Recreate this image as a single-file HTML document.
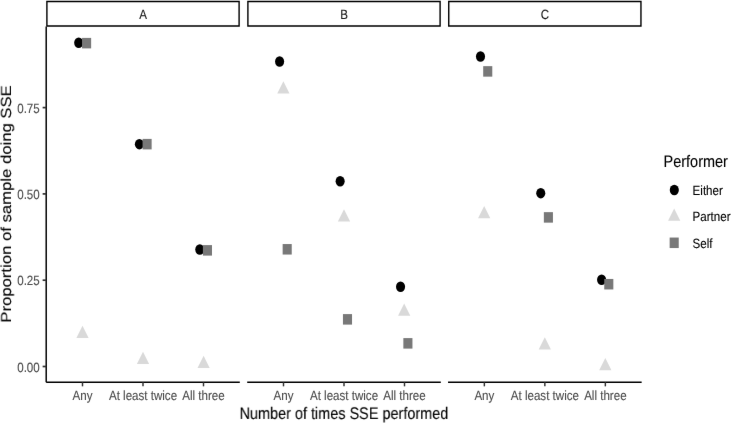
<!DOCTYPE html>
<html><head><meta charset="utf-8"><style>
html,body{margin:0;padding:0;background:#fff;width:731px;height:423px;overflow:hidden}
svg{display:block;font-family:"Liberation Sans",sans-serif;will-change:transform;text-rendering:geometricPrecision}
</style></head><body>
<svg width="731" height="423" viewBox="0 0 731 423">
<defs><filter id="bl" x="0" y="0" width="731" height="423" filterUnits="userSpaceOnUse" color-interpolation-filters="sRGB"><feConvolveMatrix order="3" kernelMatrix="0.00163 0.03713 0.00163 0.03713 0.84497 0.03713 0.00163 0.03713 0.00163" edgeMode="duplicate" preserveAlpha="true"/></filter></defs>
<g filter="url(#bl)"><rect width="731" height="423" fill="#fff"/>
<path d="M46.20,0.65H239.80V26.8H46.20Z M47.60,2.15V25.18H238.40V2.15Z" fill="#000" fill-rule="evenodd"/>
<text transform="translate(143.00,18.60) scale(0.866,1)" font-size="13.36" fill="#1A1A1A" stroke="#1A1A1A" stroke-width="0.12" text-anchor="middle">A</text>
<line x1="46.20" y1="382.25" x2="239.80" y2="382.25" stroke="#000" stroke-width="1.7"/>
<line x1="82.50" y1="382.25" x2="82.50" y2="386.35" stroke="#333333" stroke-width="1.47"/>
<text transform="translate(82.50,399.75) scale(0.866,1)" font-size="13.36" fill="#4D4D4D" stroke="#4D4D4D" stroke-width="0.12" text-anchor="middle">Any</text>
<line x1="143.00" y1="382.25" x2="143.00" y2="386.35" stroke="#333333" stroke-width="1.47"/>
<text transform="translate(143.00,399.75) scale(0.866,1)" font-size="13.36" fill="#4D4D4D" stroke="#4D4D4D" stroke-width="0.12" text-anchor="middle">At least twice</text>
<line x1="203.50" y1="382.25" x2="203.50" y2="386.35" stroke="#333333" stroke-width="1.47"/>
<text transform="translate(203.50,399.75) scale(0.866,1)" font-size="13.36" fill="#4D4D4D" stroke="#4D4D4D" stroke-width="0.12" text-anchor="middle">All three</text>
<path d="M247.20,0.65H440.80V26.8H247.20Z M248.60,2.15V25.18H439.40V2.15Z" fill="#000" fill-rule="evenodd"/>
<text transform="translate(344.00,18.60) scale(0.866,1)" font-size="13.36" fill="#1A1A1A" stroke="#1A1A1A" stroke-width="0.12" text-anchor="middle">B</text>
<line x1="247.20" y1="382.25" x2="440.80" y2="382.25" stroke="#000" stroke-width="1.7"/>
<line x1="283.50" y1="382.25" x2="283.50" y2="386.35" stroke="#333333" stroke-width="1.47"/>
<text transform="translate(283.50,399.75) scale(0.866,1)" font-size="13.36" fill="#4D4D4D" stroke="#4D4D4D" stroke-width="0.12" text-anchor="middle">Any</text>
<line x1="344.00" y1="382.25" x2="344.00" y2="386.35" stroke="#333333" stroke-width="1.47"/>
<text transform="translate(344.00,399.75) scale(0.866,1)" font-size="13.36" fill="#4D4D4D" stroke="#4D4D4D" stroke-width="0.12" text-anchor="middle">At least twice</text>
<line x1="404.50" y1="382.25" x2="404.50" y2="386.35" stroke="#333333" stroke-width="1.47"/>
<text transform="translate(404.50,399.75) scale(0.866,1)" font-size="13.36" fill="#4D4D4D" stroke="#4D4D4D" stroke-width="0.12" text-anchor="middle">All three</text>
<path d="M448.05,0.65H641.65V26.8H448.05Z M449.45,2.15V25.18H640.25V2.15Z" fill="#000" fill-rule="evenodd"/>
<text transform="translate(544.85,18.60) scale(0.866,1)" font-size="13.36" fill="#1A1A1A" stroke="#1A1A1A" stroke-width="0.12" text-anchor="middle">C</text>
<line x1="448.05" y1="382.25" x2="641.65" y2="382.25" stroke="#000" stroke-width="1.7"/>
<line x1="484.35" y1="382.25" x2="484.35" y2="386.35" stroke="#333333" stroke-width="1.47"/>
<text transform="translate(484.35,399.75) scale(0.866,1)" font-size="13.36" fill="#4D4D4D" stroke="#4D4D4D" stroke-width="0.12" text-anchor="middle">Any</text>
<line x1="544.85" y1="382.25" x2="544.85" y2="386.35" stroke="#333333" stroke-width="1.47"/>
<text transform="translate(544.85,399.75) scale(0.866,1)" font-size="13.36" fill="#4D4D4D" stroke="#4D4D4D" stroke-width="0.12" text-anchor="middle">At least twice</text>
<line x1="605.35" y1="382.25" x2="605.35" y2="386.35" stroke="#333333" stroke-width="1.47"/>
<text transform="translate(605.35,399.75) scale(0.866,1)" font-size="13.36" fill="#4D4D4D" stroke="#4D4D4D" stroke-width="0.12" text-anchor="middle">All three</text>
<line x1="46.20" y1="26.6" x2="46.20" y2="382.25" stroke="#000" stroke-width="1.47"/>
<line x1="42.63" y1="366.50" x2="46.20" y2="366.50" stroke="#333333" stroke-width="1.7"/>
<text transform="translate(39.75,371.50) scale(0.866,1)" font-size="13.36" fill="#4D4D4D" stroke="#4D4D4D" stroke-width="0.12" text-anchor="end">0.00</text>
<line x1="42.63" y1="280.20" x2="46.20" y2="280.20" stroke="#333333" stroke-width="1.7"/>
<text transform="translate(39.75,285.20) scale(0.866,1)" font-size="13.36" fill="#4D4D4D" stroke="#4D4D4D" stroke-width="0.12" text-anchor="end">0.25</text>
<line x1="42.63" y1="193.90" x2="46.20" y2="193.90" stroke="#333333" stroke-width="1.7"/>
<text transform="translate(39.75,198.90) scale(0.866,1)" font-size="13.36" fill="#4D4D4D" stroke="#4D4D4D" stroke-width="0.12" text-anchor="end">0.50</text>
<line x1="42.63" y1="107.60" x2="46.20" y2="107.60" stroke="#333333" stroke-width="1.7"/>
<text transform="translate(39.75,112.60) scale(0.866,1)" font-size="13.36" fill="#4D4D4D" stroke="#4D4D4D" stroke-width="0.12" text-anchor="end">0.75</text>
<text transform="translate(343.90,418.90) scale(0.866,1)" font-size="16.7" fill="#000" stroke="#000" stroke-width="0.12" text-anchor="middle">Number of times SSE performed</text>
<text transform="translate(11.00,203.90) rotate(-90) scale(1,0.866)" font-size="16.7" fill="#000" stroke="#000" stroke-width="0.12" text-anchor="middle">Proportion of sample doing SSE</text>
<ellipse cx="78.70" cy="42.80" rx="4.55" ry="5.25" fill="#000000"/>
<ellipse cx="139.40" cy="144.15" rx="4.55" ry="5.25" fill="#000000"/>
<ellipse cx="199.80" cy="249.50" rx="4.55" ry="5.25" fill="#000000"/>
<ellipse cx="279.60" cy="61.50" rx="4.55" ry="5.25" fill="#000000"/>
<ellipse cx="340.15" cy="181.20" rx="4.55" ry="5.25" fill="#000000"/>
<ellipse cx="400.55" cy="286.80" rx="4.55" ry="5.25" fill="#000000"/>
<ellipse cx="480.50" cy="56.50" rx="4.55" ry="5.25" fill="#000000"/>
<ellipse cx="540.75" cy="193.15" rx="4.55" ry="5.25" fill="#000000"/>
<ellipse cx="601.60" cy="279.80" rx="4.55" ry="5.25" fill="#000000"/>
<polygon points="82.50,325.75 88.62,338.00 76.38,338.00" fill="#D9D9D9"/>
<polygon points="143.00,351.85 149.12,364.10 136.88,364.10" fill="#D9D9D9"/>
<polygon points="203.60,355.75 209.72,368.00 197.48,368.00" fill="#D9D9D9"/>
<polygon points="283.40,81.15 289.52,93.40 277.28,93.40" fill="#D9D9D9"/>
<polygon points="344.00,209.25 350.12,221.50 337.88,221.50" fill="#D9D9D9"/>
<polygon points="404.20,303.45 410.32,315.70 398.08,315.70" fill="#D9D9D9"/>
<polygon points="484.20,206.05 490.32,218.30 478.08,218.30" fill="#D9D9D9"/>
<polygon points="544.80,337.15 550.92,349.40 538.68,349.40" fill="#D9D9D9"/>
<polygon points="605.30,358.05 611.42,370.30 599.18,370.30" fill="#D9D9D9"/>
<rect x="82.05" y="37.90" width="9.09" height="10.50" fill="#787878"/>
<rect x="142.55" y="138.90" width="9.09" height="10.50" fill="#787878"/>
<rect x="202.90" y="245.10" width="9.09" height="10.50" fill="#787878"/>
<rect x="282.65" y="244.05" width="9.09" height="10.50" fill="#787878"/>
<rect x="342.95" y="314.10" width="9.09" height="10.50" fill="#787878"/>
<rect x="403.35" y="338.10" width="9.09" height="10.50" fill="#787878"/>
<rect x="483.20" y="66.15" width="9.09" height="10.50" fill="#787878"/>
<rect x="543.85" y="212.15" width="9.09" height="10.50" fill="#787878"/>
<rect x="604.25" y="278.95" width="9.09" height="10.50" fill="#787878"/>
<text transform="translate(663.60,167.20) scale(0.866,1)" font-size="16.7" fill="#000" stroke="#000" stroke-width="0.12" text-anchor="start">Performer</text>
<ellipse cx="674.30" cy="190.00" rx="4.55" ry="5.25" fill="#000000"/>
<polygon points="674.20,208.50 680.32,220.75 668.08,220.75" fill="#D9D9D9"/>
<rect x="669.65" y="237.55" width="9.09" height="10.50" fill="#787878"/>
<text transform="translate(692.60,194.80) scale(0.866,1)" font-size="13.36" fill="#000" stroke="#000" stroke-width="0.12" text-anchor="start">Either</text>
<text transform="translate(692.60,221.40) scale(0.866,1)" font-size="13.36" fill="#000" stroke="#000" stroke-width="0.12" text-anchor="start">Partner</text>
<text transform="translate(692.60,247.80) scale(0.866,1)" font-size="13.36" fill="#000" stroke="#000" stroke-width="0.12" text-anchor="start">Self</text>
</g>
</svg>
</body></html>
